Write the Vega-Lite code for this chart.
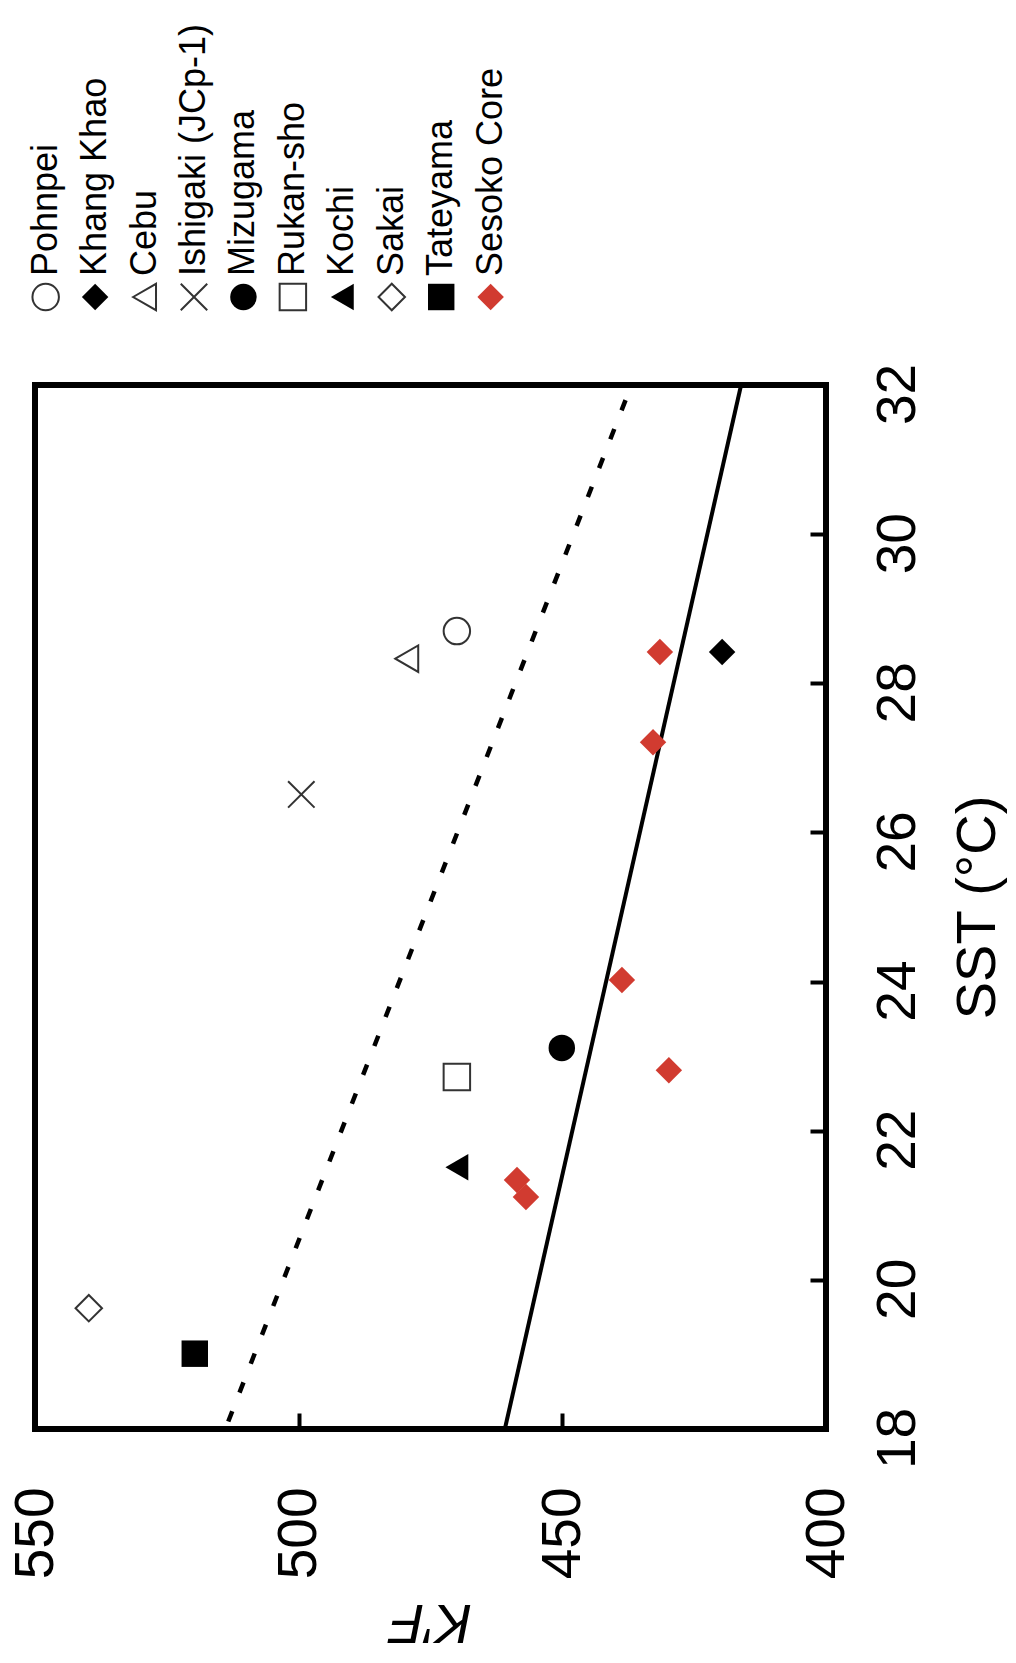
{
  "$schema": "https://vega.github.io/schema/vega-lite/v6.json",
  "background": "white",
  "padding": {"left": 5, "top": 23, "right": 2, "bottom": 2},
  "spacing": 43,
  "config": {
    "font": "Liberation Sans",
    "view": {"stroke": null},
    "axis": {"labelColor": "black", "titleColor": "black", "tickColor": "black"}
  },
  "datasets": {
    "legend": [
      {"site": "Pohnpei"}, {"site": "Khang Khao"}, {"site": "Cebu"}, {"site": "Ishigaki (JCp-1)"},
      {"site": "Mizugama"}, {"site": "Rukan-sho"}, {"site": "Kochi"}, {"site": "Sakai"},
      {"site": "Tateyama"}, {"site": "Sesoko Core"}
    ],
    "sites": [
      {"site": "Pohnpei", "K": 470, "SST": 28.7},
      {"site": "Khang Khao", "K": 419.7, "SST": 28.42},
      {"site": "Cebu", "K": 479.5, "SST": 28.33},
      {"site": "Ishigaki (JCp-1)", "K": 499.5, "SST": 26.51},
      {"site": "Mizugama", "K": 450.1, "SST": 23.11},
      {"site": "Rukan-sho", "K": 470, "SST": 22.72},
      {"site": "Kochi", "K": 470, "SST": 21.51},
      {"site": "Sakai", "K": 539.8, "SST": 19.62},
      {"site": "Tateyama", "K": 519.7, "SST": 19.01},
      {"site": "Sesoko Core", "K": 431.5, "SST": 28.42},
      {"site": "Sesoko Core", "K": 432.8, "SST": 27.21},
      {"site": "Sesoko Core", "K": 438.7, "SST": 24.02},
      {"site": "Sesoko Core", "K": 429.8, "SST": 22.81},
      {"site": "Sesoko Core", "K": 458.6, "SST": 21.34},
      {"site": "Sesoko Core", "K": 456.9, "SST": 21.11}
    ],
    "solid": [
      {"K": 460.9, "SST": 18},
      {"K": 416.1, "SST": 32}
    ],
    "dashed": [
      {"K": 513.35, "SST": 18.1},
      {"K": 438.0, "SST": 31.8}
    ]
  },
  "vconcat": [
    {
      "data": {"name": "legend"},
      "width": {"step": 49.44},
      "height": 40,
      "layer": [
        {
          "mark": {"type": "point", "filled": true, "size": 700, "strokeWidth": 2, "opacity": 1},
          "encoding": {
            "x": {"field": "site", "type": "nominal", "sort": null,
                  "scale": {"type": "point", "padding": 0.216}, "axis": null},
            "shape": {"field": "site", "type": "nominal", "legend": null,
              "scale": {
                "domain": ["Pohnpei", "Khang Khao", "Cebu", "Ishigaki (JCp-1)", "Mizugama", "Rukan-sho", "Kochi", "Sakai", "Tateyama", "Sesoko Core"],
                "range": ["circle", "diamond", "triangle-left", "M-1,-1L1,1M-1,1L1,-1", "circle", "square", "triangle-left", "diamond", "square", "diamond"]}},
            "fill": {"field": "site", "type": "nominal", "legend": null,
              "scale": {
                "domain": ["Pohnpei", "Khang Khao", "Cebu", "Ishigaki (JCp-1)", "Mizugama", "Rukan-sho", "Kochi", "Sakai", "Tateyama", "Sesoko Core"],
                "range": ["transparent", "black", "transparent", "transparent", "black", "transparent", "black", "transparent", "black", "#D13B30"]}},
            "stroke": {"field": "site", "type": "nominal", "legend": null,
              "scale": {
                "domain": ["Pohnpei", "Khang Khao", "Cebu", "Ishigaki (JCp-1)", "Mizugama", "Rukan-sho", "Kochi", "Sakai", "Tateyama", "Sesoko Core"],
                "range": ["#333333", "transparent", "#333333", "#333333", "transparent", "#333333", "transparent", "#333333", "transparent", "transparent"]}}
          }
        },
        {
          "mark": {"type": "text", "angle": 270, "align": "left", "baseline": "middle", "dx": 21, "fontSize": 36, "color": "black"},
          "encoding": {
            "x": {"field": "site", "type": "nominal", "sort": null,
                  "scale": {"type": "point", "padding": 0.216}, "axis": null},
            "text": {"field": "site"}
          }
        }
      ]
    },
    {
      "width": 791,
      "height": 1044,
      "view": {"stroke": "black", "strokeWidth": 6},
      "layer": [
        {
          "data": {"name": "dashed"},
          "mark": {"type": "line", "color": "black", "strokeWidth": 4.5, "strokeDash": [11, 20], "strokeCap": "butt"},
          "encoding": {
            "x": {"field": "K", "type": "quantitative",
              "scale": {"domain": [400, 550], "reverse": true, "nice": false, "zero": false},
              "axis": {"orient": "bottom", "values": [400, 450, 500, 550], "format": "d", "labelAngle": 270,
                "labelAlign": "right", "labelBaseline": "middle", "labelFontSize": 55,
                "labelPadding": 74, "labelFlush": false, "labelOverlap": false,
                "tickSize": -16, "tickWidth": 4, "domain": false, "grid": false,
                "title": "K′F", "titleAngle": 180, "titleFontSize": 56, "titleFontStyle": "italic",
                "titleFontWeight": "normal", "titleBaseline": "bottom", "titleAlign": "center", "titlePadding": 14}},
            "y": {"field": "SST", "type": "quantitative",
              "scale": {"domain": [18, 32], "nice": false, "zero": false},
              "axis": {"orient": "right", "values": [18, 20, 22, 24, 26, 28, 30, 32], "format": "d", "labelAngle": 270,
                "labelAlign": "center", "labelBaseline": "top", "labelFontSize": 55,
                "labelPadding": 61, "labelOffset": 9, "labelFlush": false, "labelOverlap": false,
                "tickSize": -16, "tickWidth": 4, "domain": false, "grid": false,
                "title": "SST (°C)", "titleAngle": 270, "titleFontSize": 56, "titleFontWeight": "normal",
                "titleBaseline": "top", "titleAlign": "center", "titlePadding": 25}}
          }
        },
        {
          "data": {"name": "solid"},
          "mark": {"type": "line", "color": "black", "strokeWidth": 4},
          "encoding": {
            "x": {"field": "K", "type": "quantitative"},
            "y": {"field": "SST", "type": "quantitative"}
          }
        },
        {
          "data": {"name": "sites"},
          "mark": {"type": "point", "filled": true, "size": 700, "strokeWidth": 2, "opacity": 1},
          "encoding": {
            "x": {"field": "K", "type": "quantitative"},
            "y": {"field": "SST", "type": "quantitative"},
            "shape": {"field": "site", "type": "nominal", "legend": null},
            "fill": {"field": "site", "type": "nominal", "legend": null},
            "stroke": {"field": "site", "type": "nominal", "legend": null}
          }
        }
      ]
    }
  ]
}
